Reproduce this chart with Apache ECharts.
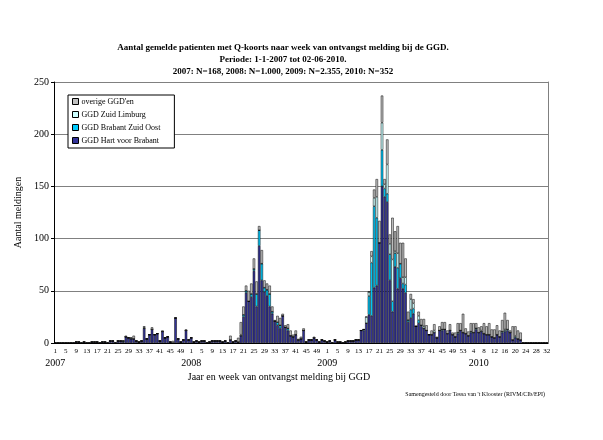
<!DOCTYPE html>
<html>
<head>
<meta charset="utf-8">
<script src="https://cdn.jsdelivr.net/npm/echarts@6/dist/echarts.min.js"></script>
<style>
  html, body { margin: 0; padding: 0; background: #fff; }
  #chart { width: 603px; height: 440px; }
</style>
</head>
<body>
<div id="chart"></div>
<script>
// weeks per year on the axis (2009 has week 53, 2010 axis runs to week 32)
const years = ['2007', '2008', '2009', '2010'];
const weekCounts = [52, 52, 53, 32];
const yearLabelIndex = [0, 52, 104, 162];

const seriesNames = ['GGD Hart voor Brabant', 'GGD Brabant Zuid Oost', 'GGD Zuid Limburg', "overige GGD'en"];
const seriesColors = ['#333399', '#00ccff', '#ccffff', '#c0c0c0'];

// GGD Hart voor Brabant
const hart = [
  // 2007
  0,0,0,0,0,0,0,0,1,1, 0,1,0,0,1,1,1,0,1,1, 0,2,2,0,2,2,1,6,5,4, 4,2,1,2,14,4,8,13,8,9, 2,11,5,6,1,0,24,4,1,3, 12,3,
  // 2008
  5,1,2,1,2,2,0,1,2,2, 2,2,1,2,0,3,1,2,1,7, 25,48,40,44,69,35,93,60,49,45, 35,28,21,17,14,26,15,12,7,6, 8,3,4,12,1,3,3,5,3,1, 3,2,
  // 2009
  1,2,0,3,1,1,0,1,2,2, 2,3,3,12,12,19,27,26,53,55, 96,150,140,135,60,30,73,52,62,52, 48,20,24,28,16,19,16,14,12,8, 8,10,5,12,12,13,9,12,8,6, 9,12,10,
  // 2010
  9,7,10,10,13,10,11,9,8,8, 6,5,8,6,10,11,12,10,3,5, 4,3,0,0,0,0,0,0,0,0, 0,0
];

// GGD Brabant Zuid Oost
const zuidOost = [
  0,0,0,0,0,0,0,0,0,0, 0,0,0,0,0,0,0,0,0,0, 0,0,0,0,0,0,1,0,0,0, 0,0,0,0,0,0,0,0,0,0, 0,0,0,0,0,0,0,0,0,0, 0,0,
  0,0,0,0,0,0,0,0,0,0, 0,0,0,0,0,0,0,0,0,0, 2,2,0,3,2,12,15,16,4,6, 12,2,0,3,3,0,0,2,0,0, 0,0,0,0,0,0,0,0,0,0, 0,0,
  0,0,0,0,0,0,0,0,0,0, 0,0,0,0,1,0,18,51,78,65, 0,35,8,8,25,10,13,20,14,5, 8,2,8,5,0,3,1,0,0,0, 0,0,0,0,1,0,0,0,0,0, 1,0,0,
  0,0,1,0,1,0,0,0,0,0, 0,0,0,0,1,1,1,0,0,1, 0,0,0,0,0,0,0,0,0,0, 0,0
];

// GGD Zuid Limburg
const zuidLimburg = [
  0,0,0,0,0,0,0,0,0,0, 0,0,0,0,0,0,0,0,0,0, 0,0,0,0,0,0,0,0,0,1, 0,0,0,0,1,0,0,0,0,0, 0,0,0,0,0,0,0,0,0,0, 0,0,
  0,0,0,0,0,0,0,0,0,0, 0,0,0,0,0,0,0,0,0,1, 0,0,0,0,0,0,0,0,0,0, 0,0,0,0,0,0,0,0,0,0, 0,0,0,0,0,0,0,0,0,0, 0,0,
  0,0,0,0,0,0,0,0,0,0, 0,0,0,0,0,6,4,6,8,20, 0,26,4,28,10,40,2,14,0,6, 7,0,10,5,0,4,0,2,0,0, 0,2,0,0,0,0,0,0,0,0, 0,0,0,
  0,0,0,0,0,0,1,0,0,0, 0,0,0,0,0,1,0,0,0,1, 0,0,0,0,0,0,0,0,0,0, 0,0
];

// overige GGD'en
const overige = [
  0,0,0,0,0,0,0,0,0,0, 0,0,0,0,0,0,0,0,0,0, 0,0,0,0,0,0,0,1,0,0, 3,0,0,0,1,0,0,2,0,0, 0,1,0,0,0,2,0,0,0,0, 1,0,
  0,0,0,0,0,0,0,0,0,0, 0,0,0,0,0,4,0,0,4,12, 8,5,10,10,10,12,4,13,7,6, 8,5,1,6,7,2,2,4,5,2, 4,1,2,2,0,0,0,1,0,0, 0,0,
  0,0,0,0,0,0,0,0,0,0, 0,0,0,0,0,0,0,5,8,17, 21,26,5,24,9,40,19,26,20,33, 18,8,5,4,0,4,6,7,5,0, 4,6,1,4,7,7,3,6,2,4, 9,7,18,
  5,4,8,9,5,5,4,10,8,11, 7,8,9,6,11,16,9,2,13,9, 8,7,0,0,0,0,0,0,0,0, 0,0
];

const seriesData = [hart, zuidOost, zuidLimburg, overige];

const categories = [];
years.forEach((y, k) => {
  for (let w = 1; w <= weekCounts[k]; w++) categories.push(y + '-' + w);
});

const font = 'Liberation Serif';
const chart = echarts.init(document.getElementById('chart'));

chart.setOption({
  animation: false,
  textStyle: { fontFamily: font, color: '#000' },
  title: [
    {
      text: 'Aantal gemelde patienten met Q-koorts naar week van ontvangst melding bij de GGD.\nPeriode: 1-1-2007 tot 02-06-2010.\n2007: N=168, 2008: N=1.000, 2009: N=2.355, 2010: N=352',
      left: 278,
      top: 37,
      textAlign: 'center',
      textStyle: { fontFamily: font, fontSize: 9, fontWeight: 'bold', lineHeight: 12, color: '#000' }
    },
    {
      text: "Samengesteld door Tessa van 't Klooster (RIVM/CIb/EPI)",
      right: 53,
      top: 386,
      textStyle: { fontFamily: font, fontSize: 6, fontWeight: 'normal', color: '#000' }
    }
  ],
  legend: {
    orient: 'vertical',
    left: 68,
    top: 95,
    data: ["overige GGD'en", 'GGD Zuid Limburg', 'GGD Brabant Zuid Oost', 'GGD Hart voor Brabant'],
    itemWidth: 6,
    itemHeight: 6,
    itemGap: 4,
    padding: [2, 14, 3, 4],
    borderColor: '#000',
    borderWidth: 1,
    backgroundColor: '#fff',
    icon: 'rect',
    itemStyle: { borderColor: '#000', borderWidth: 1 },
    textStyle: { fontFamily: font, fontSize: 8, lineHeight: 9, color: '#000', padding: [0, 0, 0, -2] }
  },
  grid: { left: 54, right: 55, top: 82, bottom: 97 },
  xAxis: [
    {
      type: 'category',
      data: categories,
      axisLine: { lineStyle: { color: '#000', width: 1 } },
      axisTick: { interval: 0, length: 3, lineStyle: { color: '#000' } },
      axisLabel: {
        interval: 3,
        margin: 5,
        fontSize: 7,
        fontFamily: font,
        color: '#000',
        formatter: v => v.split('-')[1]
      },
      name: 'Jaar en week van ontvangst melding bij GGD',
      nameLocation: 'middle',
      nameGap: 29,
      nameTextStyle: { fontFamily: font, fontSize: 10, color: '#000', padding: [0, 44, 0, 0] }
    },
    {
      type: 'category',
      position: 'bottom',
      data: categories,
      axisLine: { show: false },
      axisTick: { show: false },
      axisLabel: {
        interval: 0,
        margin: 15,
        fontSize: 10,
        fontFamily: font,
        color: '#000',
        formatter: (v, idx) => {
          const k = yearLabelIndex.indexOf(idx);
          return k >= 0 ? years[k] : '';
        }
      }
    }
  ],
  yAxis: [
    {
      type: 'value',
      min: 0,
      max: 250,
      interval: 50,
      axisLine: { show: true, lineStyle: { color: '#000' } },
      axisTick: { show: true, length: 3, lineStyle: { color: '#000' } },
      axisLabel: { fontSize: 10, fontFamily: font, color: '#000', margin: 5 },
      splitLine: { lineStyle: { color: '#808080', width: 1 } },
      name: 'Aantal meldingen',
      nameLocation: 'middle',
      nameGap: 31,
      nameTextStyle: { fontFamily: font, fontSize: 10, color: '#000' }
    },
    {
      type: 'value',
      position: 'right',
      min: 0,
      max: 250,
      interval: 50,
      axisLine: { show: true, lineStyle: { color: '#808080' } },
      axisTick: { show: false },
      axisLabel: { show: false },
      splitLine: { show: false }
    }
  ],
  series: seriesNames.map((name, k) => ({
    name: name,
    type: 'bar',
    stack: 'total',
    xAxisIndex: 0,
    yAxisIndex: 0,
    barCategoryGap: '6%',
    data: seriesData[k],
    itemStyle: { color: seriesColors[k], borderColor: '#000', borderWidth: 0.5 }
  }))
});
</script>
</body>
</html>
